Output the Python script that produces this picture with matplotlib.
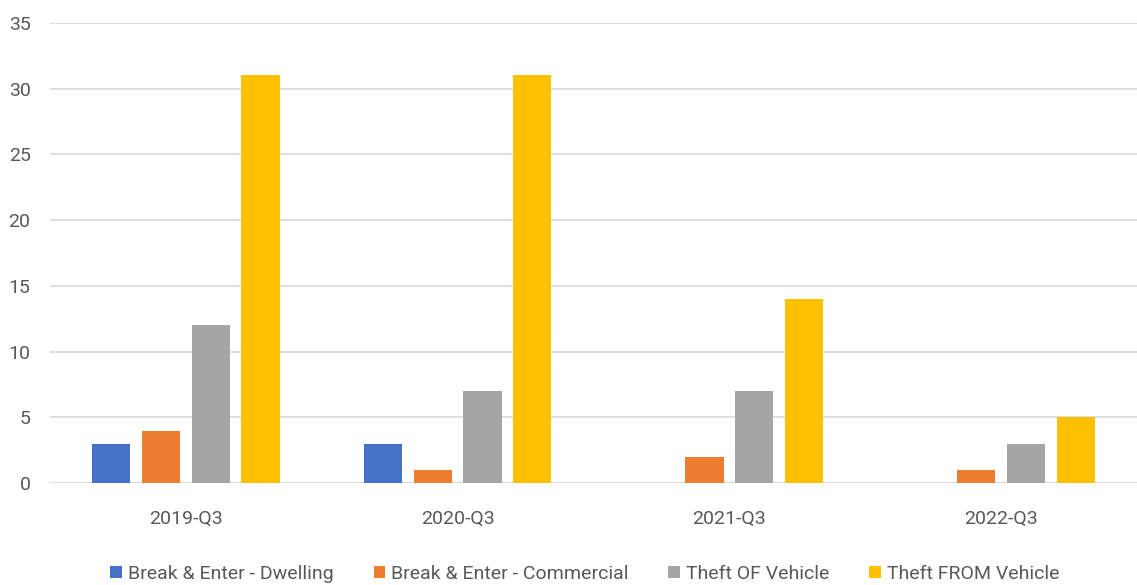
import matplotlib
matplotlib.use('Agg')
import matplotlib.pyplot as plt
import numpy as np

plt.rcParams['font.family'] = ['Roboto', 'DejaVu Sans']

#data
quarters = ['2019-Q3', '2020-Q3', '2021-Q3', '2022-Q3']
series_names = ['Break & Enter - Dwelling', 'Break & Enter - Commercial',
                'Theft OF Vehicle', 'Theft FROM Vehicle']
dwelling = [3, 3, 0, 0]
commercial = [4, 1, 2, 1]
theft_of = [12, 7, 7, 3]
theft_from = [31, 31, 14, 5]
colours = ['#4472C4', '#ED7D31', '#A5A5A5', '#FFC000']

fig = plt.figure(figsize=(11.37, 5.85), dpi=100)
ax = fig.add_axes([0.044, 0.174, 0.956, 0.787])

x = np.arange(len(quarters))
width = 0.14
step = 0.183
for n, (vals, name, c) in enumerate(zip([dwelling, commercial, theft_of, theft_from], series_names, colours)):
    ax.bar(x + (n - 1.5) * step, vals, width, color=c, label=name, zorder=3)

ax.set_xlim(-0.5, 3.5)
ax.set_ylim(0, 35)
ax.set_yticks(range(0, 36, 5))
ax.set_xticks(x)
ax.set_xticklabels(quarters)
ax.grid(axis='y', color='#D9D9D9', linewidth=1.2, zorder=0)
for s in ['top', 'right', 'left', 'bottom']:
    ax.spines[s].set_visible(False)
ax.axhline(0, color='#D9D9D9', linewidth=1.2, zorder=2)
ax.tick_params(axis='both', length=0, labelsize=14, colors='#595959', pad=19)
ax.tick_params(axis='y', pad=14)

leg = ax.legend(loc='upper center', bbox_to_anchor=(0.492, -0.14), ncol=4, frameon=False,
                fontsize=14, handlelength=0.6, handleheight=0.6, handletextpad=0.3,
                columnspacing=2.05, labelcolor='#595959')

plt.savefig('out.png', dpi=100)
